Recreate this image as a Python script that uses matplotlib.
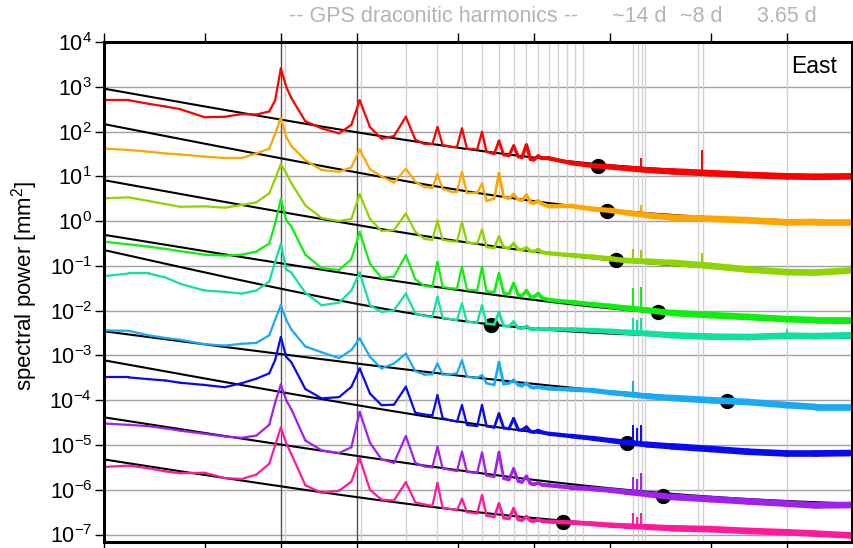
import numpy as np
import matplotlib
matplotlib.use("Agg")
import matplotlib.pyplot as plt
from matplotlib.collections import LineCollection
from matplotlib.transforms import blended_transform_factory
from matplotlib.ticker import FixedLocator, NullLocator, LogFormatterSciNotation

plt.rcParams['font.family'] = ['Liberation Sans', 'DejaVu Sans']
plt.rcParams['mathtext.fontset'] = 'custom'
plt.rcParams['mathtext.rm'] = 'Liberation Sans'
plt.rcParams['mathtext.it'] = 'Liberation Sans:italic'
plt.rcParams['mathtext.bf'] = 'Liberation Sans:bold'

# frequency (cycles per year) at which the spectra were read
freq = [0.2, 0.25, 0.3, 0.35, 0.4, 0.5, 0.6, 0.7, 0.8, 0.9,
        0.95, 1.0, 1.05, 1.1, 1.25, 1.45, 1.7, 1.9, 2.05, 2.25,
        2.5, 2.8, 3.12, 3.4, 3.7, 3.97, 4.16, 4.36, 4.7, 4.97,
        5.2, 5.44, 5.97, 6.24, 6.5, 6.97, 7.28, 7.6, 7.97, 8.32,
        8.68, 8.97, 9.35, 9.7, 9.98, 10.4, 10.8, 11.5, 14, 17,
        20, 23, 28, 35, 50, 70, 100, 130, 180]

# log10 of spectral power [mm^2], one list per station (top to bottom)
log_red = [2.70, 2.70, 2.62, 2.56, 2.50, 2.32, 2.33, 2.39, 2.38, 2.45,
           2.70, 3.41, 3.00, 2.75, 2.23, 2.07, 1.96, 2.15, 2.70, 2.10,
           1.84, 1.90, 2.33, 1.82, 1.72, 1.72, 2.10, 1.70, 1.66, 1.66,
           2.07, 1.62, 1.60, 1.99, 1.55, 1.50, 1.79, 1.48, 1.46, 1.68,
           1.44, 1.42, 1.70, 1.38, 1.37, 1.45, 1.40, 1.40, 1.30, 1.24,
           1.21, 1.18, 1.14, 1.11, 1.07, 1.03, 1.00, 0.99, 1.00]
log_orange = [1.62, 1.59, 1.55, 1.51, 1.49, 1.44, 1.41, 1.41, 1.51, 1.62,
              1.95, 2.31, 1.88, 1.68, 1.36, 1.14, 1.10, 1.20, 1.60, 1.16,
              1.00, 0.86, 1.17, 0.88, 0.76, 0.74, 1.05, 0.72, 0.66, 0.66,
              1.10, 0.62, 0.62, 0.84, 0.45, 0.50, 1.07, 0.54, 0.50, 0.60,
              0.48, 0.46, 0.58, 0.42, 0.40, 0.45, 0.38, 0.33, 0.34, 0.27,
              0.24, 0.19, 0.13, 0.08, 0.05, 0.02, -0.03, -0.02, -0.02]
log_yellowgreen = [0.51, 0.53, 0.45, 0.38, 0.32, 0.33, 0.30, 0.36, 0.42, 0.62,
                   0.95, 1.27, 1.07, 0.85, 0.35, 0.07, 0.00, 0.05, 0.60, 0.05,
                   -0.22, -0.20, 0.17, -0.24, -0.40, -0.42, 0.01, -0.42, -0.45, -0.46,
                   -0.02, -0.48, -0.50, -0.19, -0.58, -0.60, -0.35, -0.58, -0.60, -0.50,
                   -0.63, -0.64, -0.60, -0.67, -0.68, -0.64, -0.70, -0.72, -0.76, -0.80,
                   -0.84, -0.88, -0.90, -0.93, -1.00, -1.08, -1.14, -1.15, -1.10]
log_green = [-0.46, -0.52, -0.57, -0.62, -0.67, -0.75, -0.77, -0.75, -0.68, -0.50,
             -0.05, 0.49, 0.02, -0.12, -0.75, -1.05, -1.09, -0.85, -0.24, -0.95,
             -1.27, -1.24, -0.76, -1.30, -1.45, -1.47, -0.91, -1.47, -1.50, -1.51,
             -1.02, -1.53, -1.55, -1.02, -1.57, -1.59, -1.17, -1.61, -1.63, -1.39,
             -1.65, -1.67, -1.55, -1.69, -1.70, -1.62, -1.72, -1.76, -1.81, -1.86,
             -1.90, -1.94, -1.99, -2.05, -2.10, -2.14, -2.19, -2.21, -2.21]
log_teal = [-1.23, -1.17, -1.17, -1.26, -1.40, -1.55, -1.58, -1.62, -1.55, -1.35,
            -0.90, -0.51, -1.08, -1.15, -1.60, -1.88, -1.82, -1.55, -1.15, -1.88,
            -2.03, -1.99, -1.62, -2.06, -2.12, -2.14, -1.69, -2.16, -2.19, -2.21,
            -1.84, -2.25, -2.27, -1.88, -2.29, -2.31, -2.03, -2.34, -2.35, -2.25,
            -2.39, -2.40, -2.35, -2.41, -2.42, -2.40, -2.41, -2.41, -2.42, -2.44,
            -2.46, -2.48, -2.51, -2.55, -2.58, -2.59, -2.56, -2.57, -2.55]
log_skyblue = [-2.44, -2.45, -2.55, -2.61, -2.65, -2.75, -2.78, -2.74, -2.72, -2.55,
               -2.20, -1.88, -2.20, -2.42, -2.80, -2.93, -3.06, -2.88, -2.62, -3.03,
               -3.29, -3.18, -2.96, -3.35, -3.43, -3.42, -3.18, -3.43, -3.42, -3.40,
               -3.11, -3.48, -3.50, -3.44, -3.62, -3.66, -3.15, -3.64, -3.62, -3.55,
               -3.66, -3.68, -3.62, -3.70, -3.72, -3.70, -3.72, -3.74, -3.76, -3.78,
               -3.83, -3.86, -3.91, -3.95, -4.00, -4.04, -4.11, -4.15, -4.15]
log_blue = [-3.49, -3.49, -3.53, -3.56, -3.61, -3.66, -3.71, -3.62, -3.52, -3.40,
            -3.10, -2.59, -3.03, -3.15, -3.75, -3.96, -3.93, -3.70, -3.29, -3.85,
            -4.11, -4.10, -3.70, -4.28, -4.32, -4.34, -3.89, -4.40, -4.45, -4.48,
            -4.11, -4.55, -4.58, -4.11, -4.58, -4.61, -4.30, -4.62, -4.64, -4.41,
            -4.66, -4.67, -4.60, -4.70, -4.71, -4.68, -4.72, -4.75, -4.80, -4.85,
            -4.90, -4.94, -4.99, -5.03, -5.09, -5.15, -5.19, -5.19, -5.18]
log_purple = [-4.52, -4.55, -4.58, -4.63, -4.68, -4.75, -4.81, -4.84, -4.79, -4.55,
              -4.05, -3.65, -4.00, -4.20, -4.90, -5.12, -5.18, -5.05, -4.26, -4.95,
              -5.32, -5.40, -4.80, -5.40, -5.48, -5.50, -5.04, -5.52, -5.56, -5.58,
              -5.15, -5.60, -5.63, -5.17, -5.68, -5.71, -5.16, -5.75, -5.78, -5.53,
              -5.81, -5.83, -5.70, -5.86, -5.88, -5.85, -5.89, -5.90, -5.95, -5.98,
              -6.01, -6.05, -6.10, -6.16, -6.21, -6.26, -6.31, -6.35, -6.34]
log_pink = [-5.49, -5.46, -5.52, -5.59, -5.63, -5.62, -5.74, -5.76, -5.66, -5.42,
            -5.00, -4.61, -4.96, -5.20, -5.90, -6.07, -6.02, -5.82, -5.30, -6.00,
            -6.22, -6.24, -5.83, -6.28, -6.33, -6.36, -5.85, -6.40, -6.43, -6.46,
            -6.20, -6.50, -6.53, -6.12, -6.58, -6.61, -6.31, -6.63, -6.65, -6.42,
            -6.67, -6.68, -6.60, -6.69, -6.70, -6.67, -6.70, -6.71, -6.73, -6.76,
            -6.79, -6.81, -6.83, -6.86, -6.88, -6.92, -6.95, -6.98, -7.02]

colors = ['#ff0000', '#ffa500', '#8fd400', '#10ee10', '#10e0a0',
          '#18aaf5', '#0a0af0', '#a020f0', '#ff1a9c']

# narrow spectral lines (cpy) and their peak values (log10 mm^2)
spike_freq = [24.6, 25.6, 26.6, 46.3, 100.0]
nan = np.nan
spike_tops = [
    [nan, nan, 1.40, 1.59, nan],
    [nan, nan, 0.36, nan, nan],
    [-0.62, nan, -0.65, -0.72, nan],
    [-1.50, nan, -1.47, nan, nan],
    [-2.17, -2.20, -2.17, nan, -2.40],
    [-3.57, nan, nan, nan, nan],
    [-4.56, -4.62, -4.56, nan, nan],
    [-5.71, -5.75, -5.62, nan, nan],
    [-6.53, -6.60, -6.52, nan, nan],
]

# fitted noise models: power law (value at 1 cpy, index) + white noise
model_amp_log = [2.244, 1.387, 0.188, -0.960, -1.546, -2.990, -3.833, -5.008, -5.960]
model_index = [-1.015, -1.111, -1.034, -0.93, -1.28, -0.749, -1.032, -0.89, -0.899]
model_white_log = [0.971, -0.043, -1.184, -2.347, -2.608, -4.310, -5.243, -6.40, -7.02]

# crossover points
dot_freq = [17.95, 19.4, 21.2, 31.0, 6.76, 57.8, 23.3, 32.4, 13.0]
dot_log = [1.23, 0.23, -0.87, -2.03, -2.31, -4.02, -4.95, -6.15, -6.72]

# reference lines
draconitic_period = 351.4
harmonics = list(range(1, 16))
tidal_periods = [14.8, 14.2, 13.7, 13.3, 8.2, 7.8, 3.65]
seasonal = [1.0, 2.0]
top_labels = ['-- GPS draconitic harmonics --', '~14 d', '~8 d', '3.65 d']
top_label_freq = [4.02, 26.0, 45.7, 100.0]

spectra = [log_red, log_orange, log_yellowgreen, log_green, log_teal,
           log_skyblue, log_blue, log_purple, log_pink]

fig = plt.figure(figsize=(8.54, 5.48), dpi=100)
ax = fig.add_axes([104 / 854, 1 - 541.7 / 548, 747.7 / 854, 499.7 / 548])
ax.set_xscale('log')
ax.set_yscale('log')
ax.set_xlim(0.2, 180.5)
ax.set_ylim(10 ** -7.16, 1e4)

# grid / reference lines
for k in range(-7, 5):
    ax.axhline(10.0 ** k, color='#a0a0a0', lw=1.0, zorder=0.5)
for f in [n * 365.25 / draconitic_period for n in harmonics]:
    ax.axvline(f, color='#d2d2d2', lw=1.0, zorder=0.6)
for p in tidal_periods:
    ax.axvline(365.25 / p, color='#d2d2d2', lw=1.0, zorder=0.6)
for f in seasonal:
    ax.axvline(f, color='#505050', lw=1.0, zorder=0.7)

fgrid = np.geomspace(0.2, 180.5, 300)
lf = np.log10(freq)
mid = 0.5 * (lf[:-1] + lf[1:])
# thicker trace where the raw spectrum is a dense noisy band
widths = np.interp(mid, np.log10([6, 15, 40]), [1.6, 3.4, 4.8])

for i, vals in enumerate(spectra):
    model = 10 ** (model_amp_log[i] + model_index[i] * np.log10(fgrid)) + 10 ** model_white_log[i]
    ax.plot(fgrid, model, color='black', lw=1.5, zorder=2)
    ax.plot(dot_freq[i], 10 ** dot_log[i], 'o', color='black', ms=10, zorder=3)

    pts = np.column_stack([freq, 10 ** np.array(vals)])
    segs = np.stack([pts[:-1], pts[1:]], axis=1)
    lc = LineCollection(segs, colors=colors[i], linewidths=widths, zorder=4)
    lc.set_capstyle('round')
    lc.set_joinstyle('round')
    ax.add_collection(lc)

    tops = np.array(spike_tops[i])
    ok = ~np.isnan(tops)
    sf = np.array(spike_freq)[ok]
    base = np.interp(np.log10(sf), lf, vals)
    ax.vlines(sf, 10 ** base, 10 ** tops[ok], color=colors[i], lw=1.4, zorder=4)

# axes styling
for s in ax.spines.values():
    s.set_linewidth(2.2)
    s.set_zorder(10)
ax.xaxis.set_major_locator(FixedLocator([0.2, 0.5, 1, 2, 5, 10, 20, 50, 100]))
ax.xaxis.set_minor_locator(NullLocator())
ax.yaxis.set_major_locator(FixedLocator([10.0 ** k for k in range(-7, 5)]))
ax.yaxis.set_minor_locator(NullLocator())
ax.yaxis.set_major_formatter(LogFormatterSciNotation())
ax.tick_params(axis='x', direction='out', top=True, bottom=True,
               labelbottom=False, labeltop=False, length=6.5, width=1.0)
ax.tick_params(axis='y', direction='out', left=True, right=False,
               labelsize=15.5, length=6.5, width=1.0, pad=2)

fig.text(25 / 854, 1 - 286 / 548, 'spectral power [mm$^2$]', rotation=90,
         ha='center', va='center', fontsize=16)
ax.text(0.98, 0.95, 'East', transform=ax.transAxes, ha='right', va='center',
        fontsize=16.5)

trans = blended_transform_factory(ax.transData, fig.transFigure)
for lab, f in zip(top_labels, top_label_freq):
    ax.text(f, 1 - 17 / 548, lab, transform=trans, ha='center', va='center',
            fontsize=15.5, color='#b4b4b4')

fig.savefig('out.png', dpi=100)
